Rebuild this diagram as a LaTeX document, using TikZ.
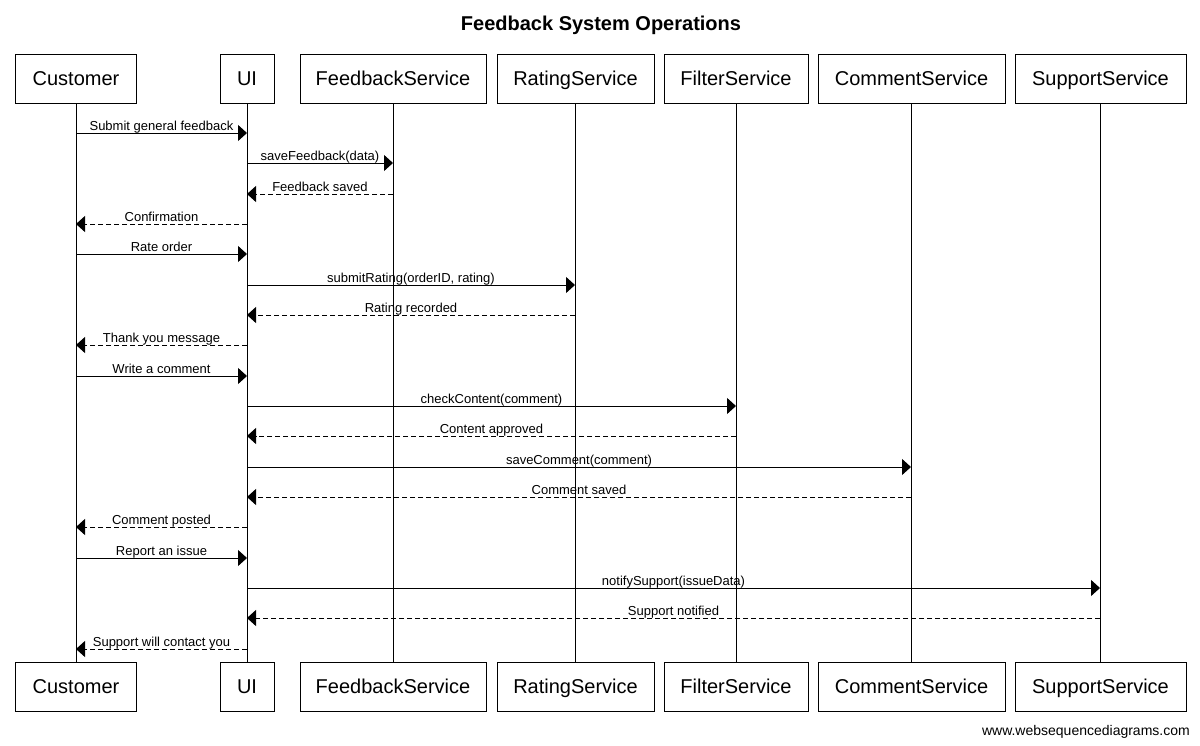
\documentclass[tikz,border=0pt]{standalone}
\usepackage{fontspec}
\setmainfont{Liberation Sans}
\usetikzlibrary{arrows.meta}
\tikzset{
  pbox/.style={draw=black, line width=1pt, fill=white, inner sep=0pt, minimum height=49pt, text height=15pt, text depth=2pt, font=\fontsize{20}{24}\selectfont},
  life/.style={draw=black, line width=1pt},
  req/.style={draw=black, line width=1pt, -{Triangle[length=9pt,width=16pt]}},
  resp/.style={req, dash pattern=on 5pt off 3pt},
  mlabel/.style={anchor=base, inner sep=0pt, yshift=3pt, font=\fontsize{13}{15}\selectfont},
}
\newcommand{\sqmsg}[5]{\draw[#5] (#1 |- 0,#3) -- (#2 |- 0,#3) node[midway, mlabel] {#4};}
\begin{document}
\begin{tikzpicture}[x=1pt, y=-1pt]
\useasboundingbox (0,0) rectangle (1200,745);
\fill[white] (0,0) rectangle (1200,745);
\node[anchor=base, font=\fontsize{20}{24}\selectfont\bfseries] (title) at (601,30) {Feedback System Operations};
% participants top
\node[pbox, minimum width=121pt] (cT) at (76,78.5) {Customer};
\node[pbox, minimum width=54pt] (uT) at (247,78.5) {UI};
\node[pbox, minimum width=186pt] (fT) at (393,78.5) {FeedbackService};
\node[pbox, minimum width=157pt] (rT) at (575.5,78.5) {RatingService};
\node[pbox, minimum width=144pt] (flT) at (736,78.5) {FilterService};
\node[pbox, minimum width=187pt] (coT) at (911.5,78.5) {CommentService};
\node[pbox, minimum width=171pt] (sT) at (1100.5,78.5) {SupportService};
% participants bottom
\node[pbox, minimum width=121pt] (cB) at (76,686.5) {Customer};
\node[pbox, minimum width=54pt] (uB) at (247,686.5) {UI};
\node[pbox, minimum width=186pt] (fB) at (393,686.5) {FeedbackService};
\node[pbox, minimum width=157pt] (rB) at (575.5,686.5) {RatingService};
\node[pbox, minimum width=144pt] (flB) at (736,686.5) {FilterService};
\node[pbox, minimum width=187pt] (coB) at (911.5,686.5) {CommentService};
\node[pbox, minimum width=171pt] (sB) at (1100.5,686.5) {SupportService};
% lifelines
\coordinate (cL) at (76,0);
\coordinate (uL) at (247,0);
\coordinate (fL) at (393,0);
\coordinate (rL) at (575,0);
\coordinate (flL) at (736,0);
\coordinate (coL) at (911,0);
\coordinate (sL) at (1100,0);
\draw[life] (cL |- cT.south) -- (cL |- cB.north);
\draw[life] (uL |- uT.south) -- (uL |- uB.north);
\draw[life] (fL |- fT.south) -- (fL |- fB.north);
\draw[life] (rL |- rT.south) -- (rL |- rB.north);
\draw[life] (flL |- flT.south) -- (flL |- flB.north);
\draw[life] (coL |- coT.south) -- (coL |- coB.north);
\draw[life] (sL |- sT.south) -- (sL |- sB.north);
% messages
\sqmsg{cL}{uL}{133}{Submit general feedback}{req}
\sqmsg{uL}{fL}{163}{saveFeedback(data)}{req}
\sqmsg{fL}{uL}{194}{Feedback saved}{resp}
\sqmsg{uL}{cL}{224}{Confirmation}{resp}
\sqmsg{cL}{uL}{254}{Rate order}{req}
\sqmsg{uL}{rL}{285}{submitRating(orderID, rating)}{req}
\sqmsg{rL}{uL}{315}{Rating recorded}{resp}
\sqmsg{uL}{cL}{345}{Thank you message}{resp}
\sqmsg{cL}{uL}{376}{Write a comment}{req}
\sqmsg{uL}{flL}{406}{checkContent(comment)}{req}
\sqmsg{flL}{uL}{436}{Content approved}{resp}
\sqmsg{uL}{coL}{467}{saveComment(comment)}{req}
\sqmsg{coL}{uL}{497}{Comment saved}{resp}
\sqmsg{uL}{cL}{527}{Comment posted}{resp}
\sqmsg{cL}{uL}{558}{Report an issue}{req}
\sqmsg{uL}{sL}{588}{notifySupport(issueData)}{req}
\sqmsg{sL}{uL}{618}{Support notified}{resp}
\sqmsg{uL}{cL}{649}{Support will contact you}{resp}
\node[anchor=base east, inner sep=0pt, font=\fontsize{14}{16}\selectfont] (wm) at (1190,735) {www.websequencediagrams.com};
\end{tikzpicture}
\end{document}
